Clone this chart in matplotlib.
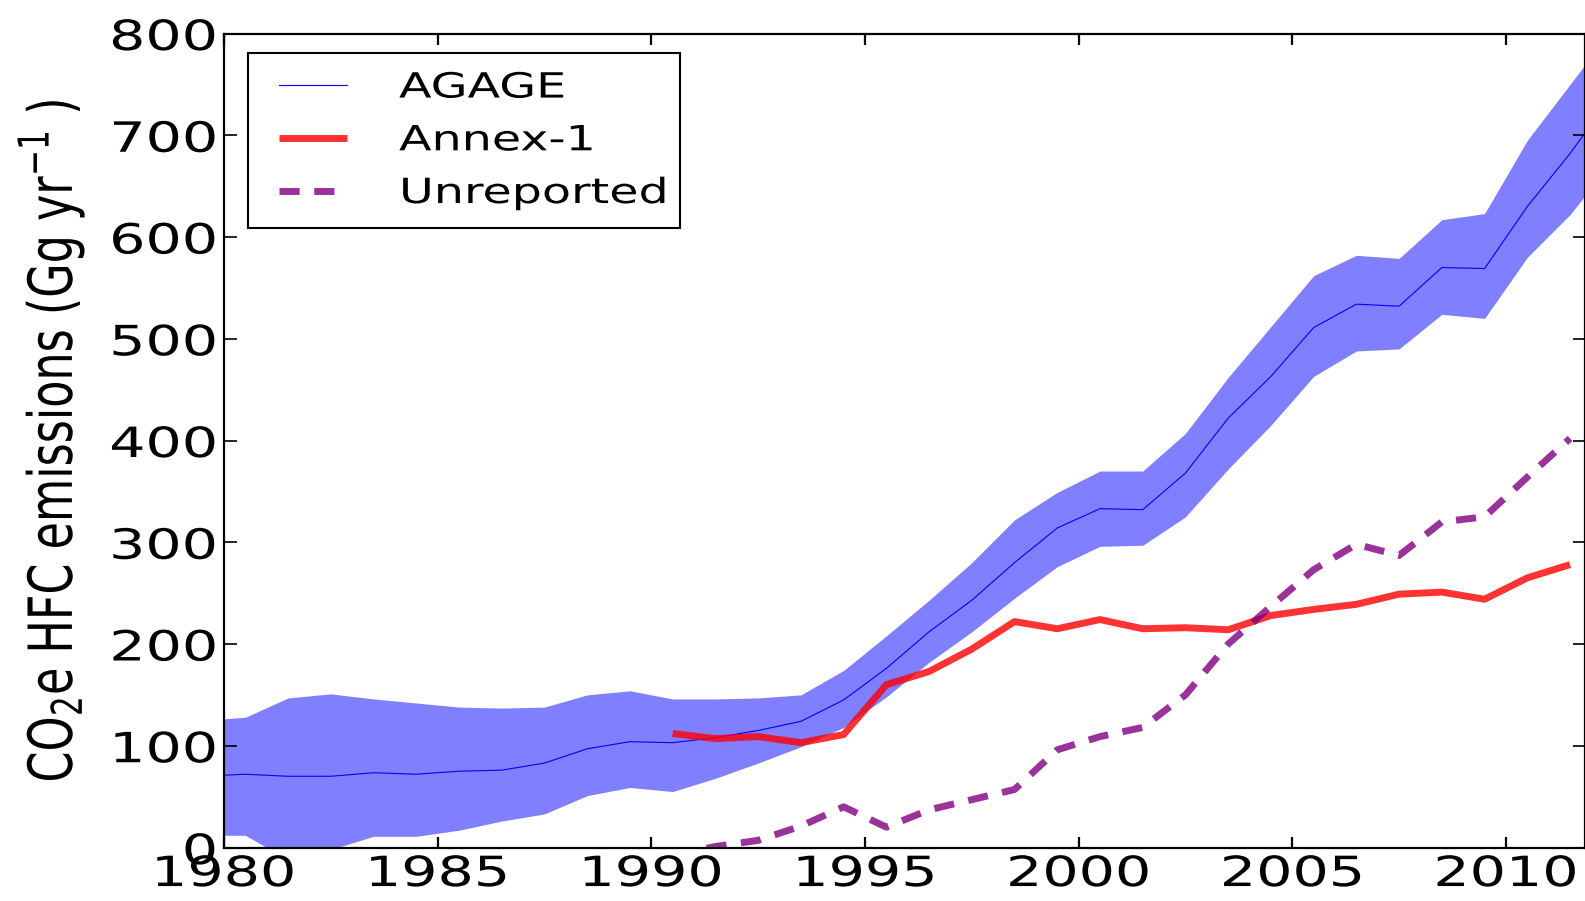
import matplotlib
matplotlib.use("Agg")
import matplotlib.pyplot as plt
from matplotlib.patheffects import AbstractPathEffect
from matplotlib.transforms import Affine2D
from matplotlib.path import Path
from matplotlib.lines import Line2D
from matplotlib.legend_handler import HandlerLine2D

# ---------------- data ----------------
agage_years = [1979.5, 1980.5, 1981.5, 1982.5, 1983.5, 1984.5, 1985.5, 1986.5,
               1987.5, 1988.5, 1989.5, 1990.5, 1991.5, 1992.5, 1993.5, 1994.5,
               1995.5, 1996.5, 1997.5, 1998.5, 1999.5, 2000.5, 2001.5, 2002.5,
               2003.5, 2004.5, 2005.5, 2006.5, 2007.5, 2008.5, 2009.5, 2010.5,
               2011.5, 2012.5]
agage_mid = [70, 72, 70, 70, 73.5, 72, 75, 76, 83, 97, 104, 103, 108, 115, 124,
             145, 176, 212, 243, 280, 314, 333, 332, 368, 422, 463, 511, 534,
             532, 570, 569, 630, 682, 740]
agage_high = [125, 128, 147, 151, 146, 142, 138, 137, 138, 150, 154, 146, 146,
              147, 150, 174, 208, 243, 280, 322, 349, 370, 370, 407, 462, 512,
              562, 582, 579, 617, 623, 695, 750, 805]
agage_low = [12, 12, -12, -2, 11, 11, 17, 26, 33, 51, 59, 55, 68, 83, 99, 118,
             148, 182, 212, 245, 276, 296, 297, 325, 372, 415, 463, 488, 490,
             524, 520, 580, 622, 675]

annex_years = [1990.5, 1991.5, 1992.5, 1993.5, 1994.5, 1995.5, 1996.5, 1997.5,
               1998.5, 1999.5, 2000.5, 2001.5, 2002.5, 2003.5, 2004.5, 2005.5,
               2006.5, 2007.5, 2008.5, 2009.5, 2010.5, 2011.5]
annex_values = [112, 107, 109, 103, 111, 160, 173, 195, 222, 215, 224, 215, 216,
                214, 228, 234, 239, 249, 251, 244, 265, 278]

unrep_years = annex_years
unrep_values = [-8, 1, 7, 21, 40, 20, 37, 47, 57, 96, 109, 118, 150, 200, 237,
                273, 298, 287, 320, 325, 364, 402]

series_labels = ["AGAGE", "Annex-1", "Unreported"]
x_ticks = [1980, 1985, 1990, 1995, 2000, 2005, 2010]
y_ticks = [0, 100, 200, 300, 400, 500, 600, 700, 800]
y_label = r"CO$_2$e HFC emissions (Gg yr$^{-1}$ )"

# ---------------- style helpers ----------------
STRETCH = 1.37  # the reference picture is stretched horizontally


class HStretch(AbstractPathEffect):
    """Draw text wider horizontally (the reference is a stretched image)."""

    def __init__(self, sx, anchor="center", x0=None):
        super().__init__()
        self.sx = sx
        self.anchor = anchor
        self.x0 = x0

    def draw_path(self, renderer, gc, tpath, affine, rgbFace=None):
        verts = tpath.vertices
        if tpath.codes is not None:
            verts = verts[tpath.codes != Path.CLOSEPOLY]
        if len(verts) == 0:
            renderer.draw_path(gc, tpath, affine, rgbFace)
            return
        pts = affine.transform(verts)
        xmin, xmax = pts[:, 0].min(), pts[:, 0].max()
        if self.x0 is not None:
            x0 = self.x0
        elif self.anchor == "left":
            x0 = xmin
        elif self.anchor == "right":
            x0 = xmax
        else:
            x0 = 0.5 * (xmin + xmax)
        extra = Affine2D().translate(-x0, 0).scale(self.sx, 1.0).translate(x0, 0)
        renderer.draw_path(gc, tpath, affine + extra, rgbFace)


plt.rcParams["font.family"] = ["DejaVu Sans"]
plt.rcParams["mathtext.fontset"] = "dejavusans"

W, H = 1585, 901
fig = plt.figure(figsize=(W / 100, H / 100), dpi=100)
ax = fig.add_axes([224 / W, 53.5 / H, 1361 / W, 814 / H])

ax.fill_between(agage_years, agage_low, agage_high, color="blue", alpha=0.5,
                linewidth=0)
ax.plot(agage_years, agage_mid, color="blue", lw=0.8, label=series_labels[0])
ax.plot(annex_years, annex_values, color="red", alpha=0.8, lw=5,
        solid_capstyle="butt", label=series_labels[1])
ax.plot(unrep_years, unrep_values, color="purple", alpha=0.8, lw=5,
        ls="--", dashes=(2.9, 2.1), label=series_labels[2])

ax.set_xlim(1980, 2011.85)
ax.set_ylim(0, 800)
ax.set_xticks(x_ticks)
ax.set_yticks(y_ticks)
ax.tick_params(axis="x", direction="in", length=8, width=1.6, top=True,
               labelsize=30, pad=4)
ax.tick_params(axis="y", direction="in", length=9, width=1.2, right=True,
               labelsize=30, pad=5)
for sp in ax.spines.values():
    sp.set_linewidth(1.6)
    sp.set_color("black")

ax.set_ylabel(y_label, fontsize=32)
ax.yaxis.set_label_coords(-0.1076, 0.5)

fs = 25
leg = ax.legend(loc="upper left", bbox_to_anchor=(248 / W, 1 - 52.5 / H),
                bbox_transform=fig.transFigure, borderaxespad=0, fontsize=fs,
                frameon=True, fancybox=False, edgecolor="black", framealpha=1,
                borderpad=0.52, handlelength=2.33, handletextpad=3.38,
                labelspacing=0.54,
                handler_map={Line2D: HandlerLine2D(xpad=0.37)})
leg.get_frame().set_linewidth(1.5)

fig.canvas.draw()
for t in ax.xaxis.get_major_ticks():
    t.label1.set_path_effects([HStretch(STRETCH, "center")])
for t in ax.yaxis.get_major_ticks():
    t.label1.set_path_effects([HStretch(STRETCH, "right")])
# legend texts: all left edges land on the same column
renderer = fig.canvas.get_renderer()
text_left = leg.get_texts()[0].get_window_extent(renderer).x0
target_left = 399.0
fixed_x = (STRETCH * text_left - target_left) / (STRETCH - 1.0)
for t in leg.get_texts():
    t.set_path_effects([HStretch(STRETCH, x0=fixed_x)])
ax.yaxis.label.set_path_effects([HStretch(STRETCH, "center")])

fig.savefig("out.png", dpi=100)
